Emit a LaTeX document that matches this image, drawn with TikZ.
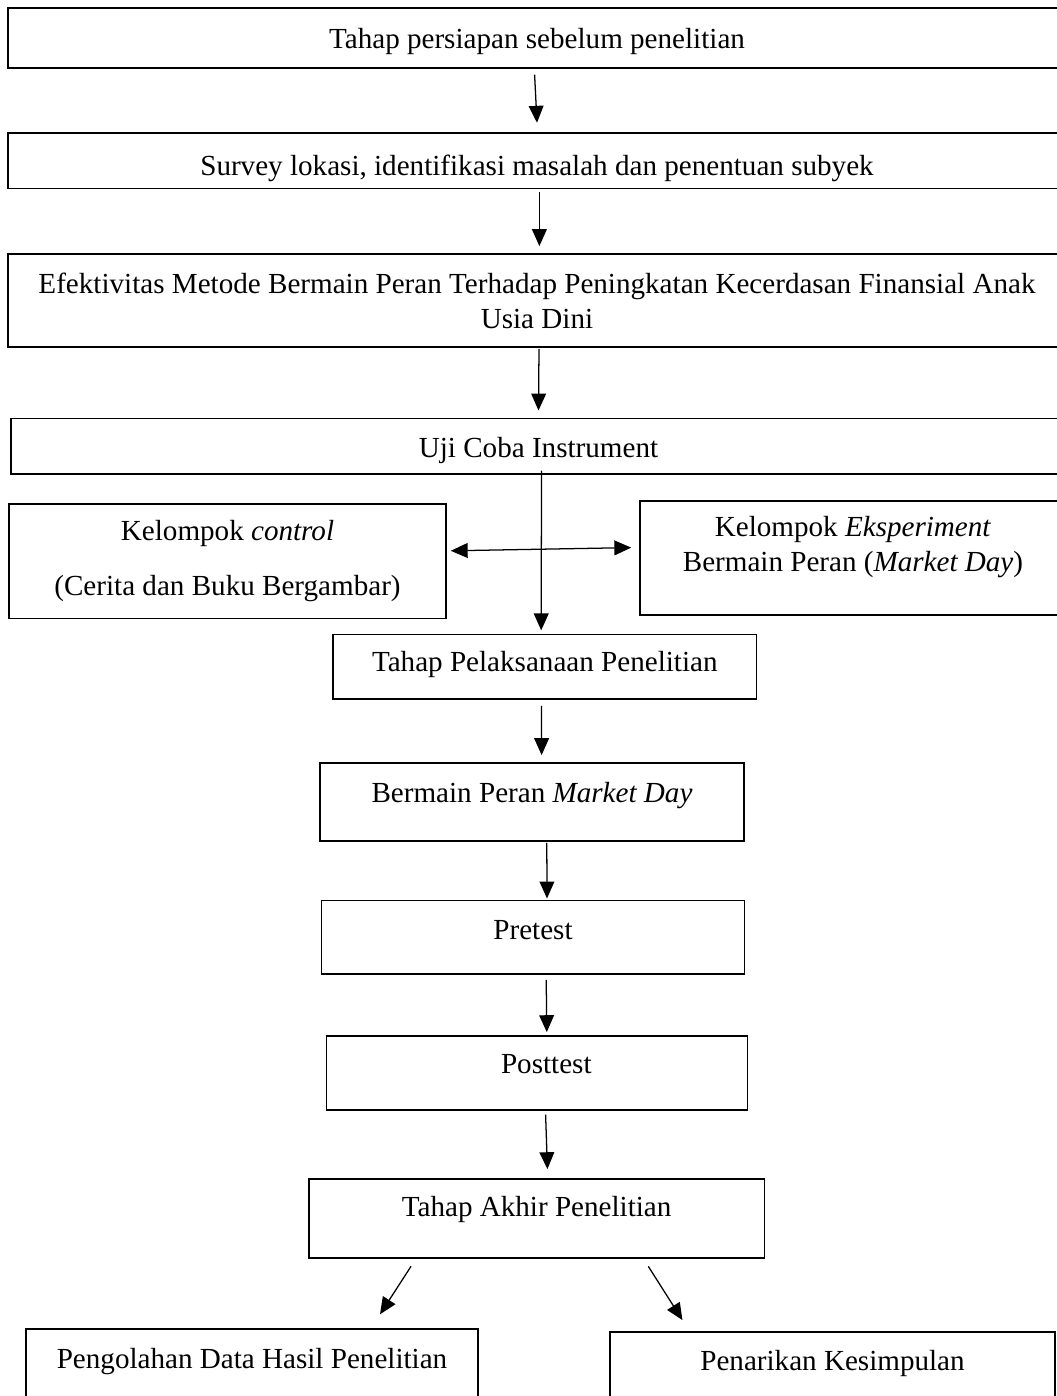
\documentclass[tikz,border=0pt]{standalone}
\usepackage{fontspec}
\setmainfont{Liberation Serif}
\usetikzlibrary{arrows.meta}

\begin{document}
\begin{tikzpicture}[x=0.025cm, y=-0.025cm, ->, >={Triangle[length=12pt,width=10.5pt]}, line width=0.9pt]

    \tikzstyle{box}=[draw=black, fill=white, line width=1pt, inner sep=2pt, align=center,
                     font=\fontsize{20.7}{24.8}\selectfont]
    \tikzstyle{line1}=[text height=14pt]

    \useasboundingbox (0,0) rectangle (1057,1396);
    \clip (0,0) rectangle (1057,1396);

    % tahap persiapan
    \node[box, text height=20pt, minimum width=26.45cm, minimum height=1.5cm, text depth=4.5pt] (prep) at (537,38) {Tahap persiapan sebelum penelitian};
    \node[box, text height=25pt, minimum width=26.45cm, minimum height=1.39cm, text depth=3.7pt] (survey) at (537,160.85) {Survey lokasi, identifikasi masalah dan penentuan subyek};
    \node[box, minimum width=26.45cm, minimum height=2.325cm]                       (efek)   at (537,300.5)  {Efektivitas Metode Bermain Peran Terhadap Peningkatan Kecerdasan Finansial Anak\\Usia Dini};
    \node[box, text height=20pt, minimum width=26.375cm, minimum height=1.39cm, text depth=3.5pt] (uji) at (538.5,446.2) {Uji Coba Instrument};

    % kelompok
    \node[box, minimum width=10.925cm, minimum height=2.86cm]                       (control) at (227.5,561.2) {Kelompok \textit{control}\\[14.2pt](Cerita dan Buku Bergambar)};
    \node[box, minimum width=10.65cm, minimum height=2.85cm, text depth=19.8pt]     (eksp)    at (853,558)     {Kelompok \textit{Eksperiment}\\Bermain Peran (\textit{Market Day})};

    % tahap pelaksanaan
    \node[box, line1, minimum width=10.59cm, minimum height=1.62cm, text depth=6.8pt]   (pelaks)   at (544.8,666.65) {Tahap Pelaksanaan Penelitian};
    \node[box, line1, minimum width=10.6cm, minimum height=1.95cm, text depth=14pt]     (bermain)  at (532,802)      {Bermain Peran \textit{Market Day}};
    \node[box, line1, minimum width=10.565cm, minimum height=1.83cm, text depth=11.2pt] (pretest)  at (533,937.35)   {Pretest};
    \node[box, line1, minimum width=10.525cm, minimum height=1.85cm, text depth=12.6pt] (posttest) at (537.2,1073)   {\hspace*{13pt}Posttest};

    % tahap akhir
    \node[box, line1, minimum width=11.38cm, minimum height=1.975cm, text depth=16.6pt] (akhir)      at (536.65,1218.5) {Tahap Akhir Penelitian};
    \node[box, line1, minimum width=11.3cm, minimum height=2.275cm, text depth=22.8pt]  (pengolahan) at (252,1374.5)    {Pengolahan Data Hasil Penelitian};
    \node[box, line1, minimum width=11.125cm, minimum height=2.2cm, text depth=22.5pt]  (penarikan)  at (832.5,1376)    {Penarikan Kesimpulan};

    \path ([xshift=-0.06cm,yshift=-0.15cm]prep.south) edge ([yshift=0.24cm]survey.north)
          ([xshift=0.06cm,yshift=-0.07cm]survey.south) edge ([xshift=0.06cm,yshift=0.18cm]efek.north)
          ([xshift=0.05cm,yshift=-0.03cm]efek.south) edge ([yshift=0.18cm]uji.north)
          ([xshift=0.075cm,yshift=0.1cm]uji.south) edge ([xshift=-0.09cm,yshift=0.08cm]pelaks.north)
          ([xshift=0.1cm,yshift=0.26cm]control.east) edge[<->] ([xshift=-0.2cm,yshift=0.26cm]eksp.west)
          ([xshift=-0.08cm,yshift=-0.15cm]pelaks.south) edge ([xshift=0.24cm,yshift=0.18cm]bermain.north)
          ([xshift=0.37cm,yshift=-0.03cm]bermain.south) edge ([xshift=0.35cm,yshift=0.04cm]pretest.north)
          ([xshift=0.33cm,yshift=-0.13cm]pretest.south) edge ([xshift=0.24cm,yshift=0.08cm]posttest.north)
          ([xshift=0.21cm,yshift=-0.1cm]posttest.south) edge ([xshift=0.27cm,yshift=0.23cm]akhir.north)
          ([xshift=-3.14cm,yshift=-0.19cm]akhir.south) edge ([xshift=3.2cm,yshift=0.35cm]pengolahan.north)
          ([xshift=2.79cm,yshift=-0.19cm]akhir.south) edge ([xshift=-3.75cm,yshift=0.28cm]penarikan.north)
    ;
\end{tikzpicture}
\end{document}
